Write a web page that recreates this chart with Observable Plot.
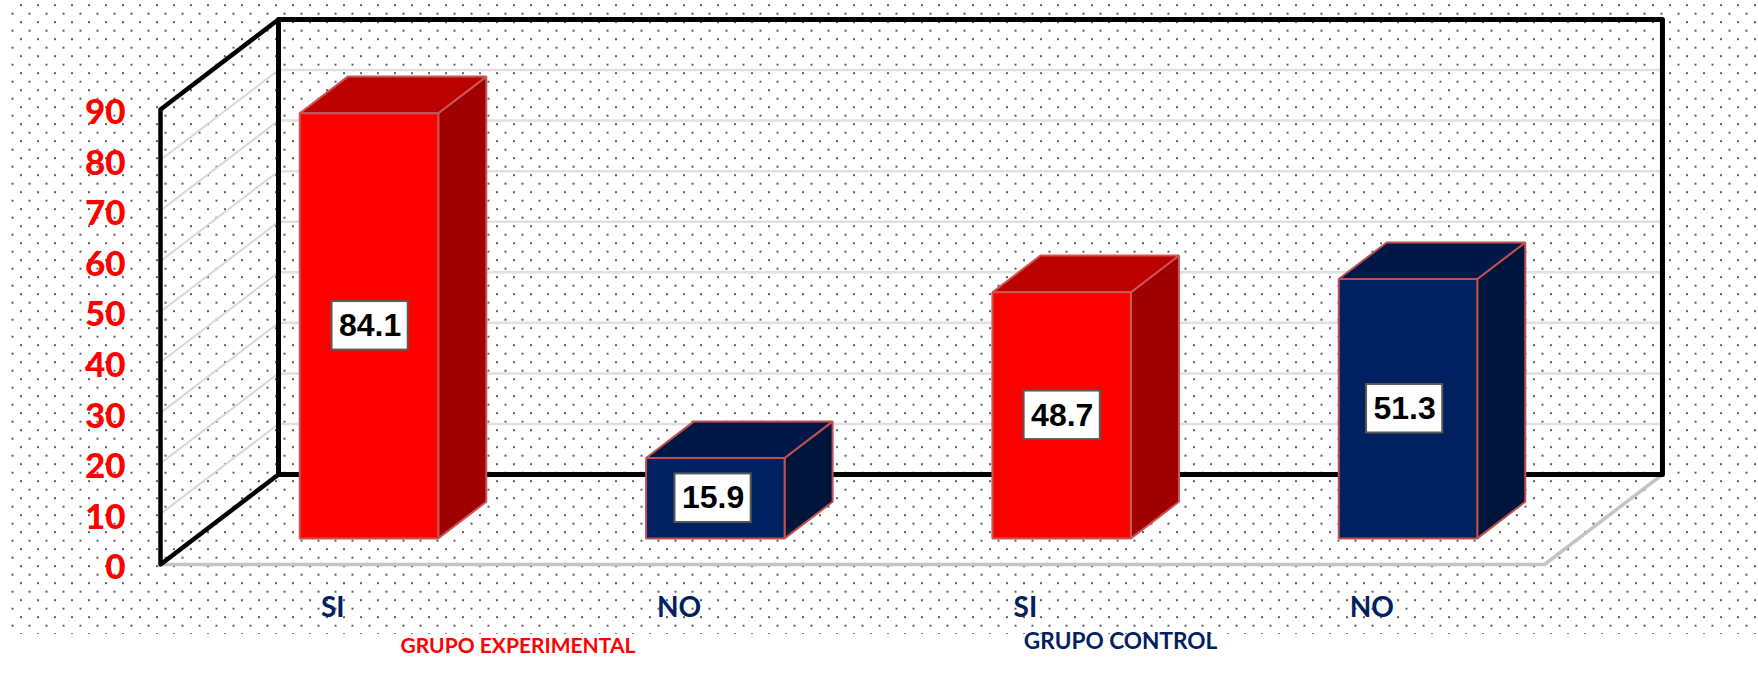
<!DOCTYPE html>
<html><head><meta charset="utf-8">
<style>
html,body{margin:0;padding:0;background:#fff;}
#wrap{position:relative;width:1758px;height:699px;overflow:hidden;}
#dots{position:absolute;left:10px;top:4px;width:1748px;height:630px;
background-image:url("data:image/svg+xml;utf8,<svg xmlns='http://www.w3.org/2000/svg' width='17' height='17'><rect x='10' y='0.2' width='2' height='2' fill='%23606060'/><rect x='1.5' y='8.7' width='2' height='2' fill='%23606060'/></svg>");
background-size:17px 17px;background-position:0 0;}
#chart{position:absolute;left:0;top:0;}
svg{background:transparent!important;}
</style>
<script src="https://cdn.jsdelivr.net/npm/d3@7"></script>
<script src="https://cdn.jsdelivr.net/npm/@observablehq/plot@0.6"></script>
</head><body>
<div id="wrap"><div id="dots"></div><div id="chart"></div></div>
<script>
const categories = ["SI","NO","SI","NO"];
const values = [84.1,15.9,48.7,51.3];
const barColors = ["#ff0000","#002060","#ff0000","#002060"];
const topColors = ["#bb0000","#001848","#bb0000","#001848"];
const sideColors = ["#a00000","#00143c","#a00000","#00143c"];
const edgeColors = ["#cc5555","#c0504d","#cc5555","#c0504d"];
const labelNudge = [1,-2,0.5,-3];
const yTicks = [0,10,20,30,40,50,60,70,80,90];
const gridValues = [10,20,30,40,50,60,70,80];
const groupLabels = ["GRUPO EXPERIMENTAL","GRUPO CONTROL"];
const groupColors = ["#ff0000","#002060"];
const groupSizes = [21,22.6];

// Oblique projection: a point (u, v, depth) lands on x = u + shiftU*depth, y = v + shiftV*depth
const shiftU = 0.3407, shiftV = 17.8;
const P = (u,v,d) => ({x:u+shiftU*d, y:v+shiftV*d});
const uLeft = -0.602, uRight = 3.394, vTop = 90;
const barFront = 0.29, barBack = 0.697, halfW = 0.2;
const barU = i => i - shiftU*barFront;

const poly = (pts,key) => pts.map(p=>({...p,key}));
const faces = {front:[],top:[],side:[]};
values.forEach((v,i)=>{
  const u=barU(i);
  faces.front.push(...poly([P(u-halfW,0,barFront),P(u+halfW,0,barFront),P(u+halfW,v,barFront),P(u-halfW,v,barFront)],i));
  faces.top.push(...poly([P(u-halfW,v,barFront),P(u+halfW,v,barFront),P(u+halfW,v,barBack),P(u-halfW,v,barBack)],i));
  faces.side.push(...poly([P(u+halfW,0,barFront),P(u+halfW,0,barBack),P(u+halfW,v,barBack),P(u+halfW,v,barFront)],i));
});
const face = (pts,cols) => Plot.line(pts,{x:"x",y:"y",z:"key",curve:"linear-closed",
  fill:d=>cols[d.key],stroke:d=>edgeColors[d.key],strokeWidth:2,strokeLinejoin:"miter"});

const backGrid = gridValues.flatMap(v=>poly([P(uLeft,v,1),P(uRight,v,1)],v));
const sideGrid = gridValues.flatMap(v=>poly([P(uLeft,v,0),P(uLeft,v,1)],v));
const backWall = [P(uLeft,0,1),P(uLeft,vTop,1),P(uRight,vTop,1),P(uRight,0,1)];
const leftWall = [P(uLeft,vTop,1),P(uLeft,vTop,0),P(uLeft,0,0),P(uLeft,0,1)];
const floor = [P(uLeft,0,0),P(uRight,0,0),P(uRight,0,1)];
const boxW = 0.11, boxH = 4.8;
const labelRows = values.map((v,i)=>({...P(barU(i)+labelNudge[i]*1.12/346.3,v/2,barFront),t:v.toFixed(1)}));
const catRows = categories.map((c,i)=>({x:barU(i),y:-8.6,c}));
const groupRows = [{x:0.43,y:-16.1,i:0},{x:2.17,y:-15.2,i:1}];

const plot = Plot.plot({
  width:1758,height:699,margin:0,
  style:{background:"transparent",overflow:"visible"},
  x:{domain:[0,3],range:[368.5,1407.5],axis:null},
  y:{domain:[0,90],range:[564,109],axis:null},
  marks:[
    Plot.line(backGrid,{x:"x",y:"y",z:"key",stroke:"#e0e0e0",strokeWidth:2.5}),
    Plot.line(sideGrid,{x:"x",y:"y",z:"key",stroke:"#d8d8d8",strokeWidth:2}),
    Plot.line(floor,{x:"x",y:"y",stroke:"#c4c4c4",strokeWidth:3.5}),
    Plot.line(backWall,{x:"x",y:"y",curve:"linear-closed",stroke:"#000",strokeWidth:5}),
    Plot.line(leftWall,{x:"x",y:"y",stroke:"#000",strokeWidth:4.5}),
    face(faces.side,sideColors),
    face(faces.top,topColors),
    face(faces.front,barColors),
    Plot.rect(labelRows,{x1:d=>d.x-boxW,x2:d=>d.x+boxW,y1:d=>d.y-boxH,y2:d=>d.y+boxH,fill:"#fff",stroke:"#595959",strokeWidth:2}),
    Plot.text(labelRows,{x:"x",y:"y",text:"t",fontFamily:"Liberation Sans",fontWeight:"bold",fontSize:32,fill:"#000"}),
    Plot.text(yTicks,{x:()=>uLeft,y:d=>d,text:String,dx:-35,dy:3.5,textAnchor:"end",fontFamily:"Lato",fontWeight:"900",fontSize:35,fill:"#ff0000"}),
    Plot.text(catRows,{x:"x",y:"y",dx:-2,text:"c",fontFamily:"Lato",fontWeight:"bold",fontSize:28,fill:"#002060"}),
    Plot.text(groupRows,{x:"x",y:"y",text:d=>groupLabels[d.i],fill:d=>groupColors[d.i],fontFamily:"Lato",fontWeight:"bold",fontSize:d=>groupSizes[d.i],textAnchor:"middle"})
  ]
});
document.getElementById("chart").appendChild(plot);
</script></body></html>
